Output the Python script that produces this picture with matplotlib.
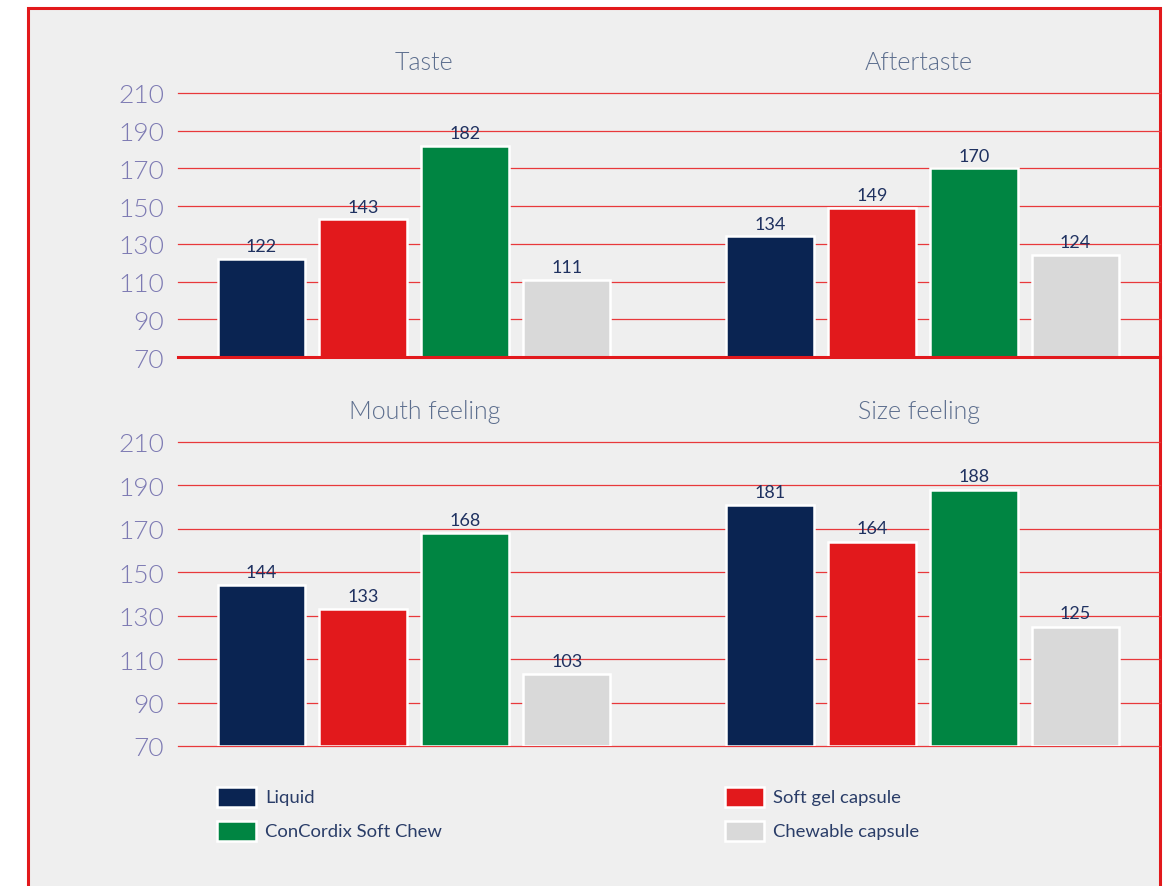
import matplotlib.pyplot as plt
import matplotlib.patches as patches
import numpy as np

plt.rcParams['font.family'] = ['Lato', 'DejaVu Sans']

series = ['Liquid', 'Soft gel capsule', 'ConCordix Soft Chew', 'Chewable capsule']
colors = ['#0a2452', '#e2191c', '#008542', '#d9d9d9']

top_titles = ['Taste', 'Aftertaste']
taste = [122, 143, 182, 111]
aftertaste = [134, 149, 170, 124]

bottom_titles = ['Mouth feeling', 'Size feeling']
mouth = [144, 133, 168, 103]
size = [181, 164, 188, 125]

yticks = [70, 90, 110, 130, 150, 170, 190, 210]

bg = '#efefef'
grid_red = '#e8383b'

fig = plt.figure(figsize=(11.76, 8.87), dpi=100)
fig.patch.set_facecolor('white')

# red frame (bottom edge runs off the picture)
frame = patches.Rectangle((28 / 1176, -0.05), (1160 - 28) / 1176, 1.05 - 9 / 887,
                          transform=fig.transFigure, facecolor=bg,
                          edgecolor='#e2191c', linewidth=2.2, zorder=-5)
fig.patches.append(frame)

ax1 = fig.add_axes([178 / 1176, 1 - 358 / 887, 982 / 1176, 264 / 887])
ax2 = fig.add_axes([178 / 1176, 1 - 747 / 887, 982 / 1176, 304 / 887])

title_shift = [0.1, -0.04]


def draw(ax, groups, titles, thick_base):
    ax.set_facecolor('none')
    for s in ax.spines.values():
        s.set_visible(False)
    ax.set_xlim(-0.82, 8.83)
    ax.set_ylim(70, 210)
    for t in yticks:
        lw = 2.2 if (t == 70 and thick_base) else 0.9
        c = '#e2191c' if (t == 70 and thick_base) else grid_red
        ax.axhline(t, color=c, linewidth=lw, zorder=3 if lw > 1 else 0, clip_on=False)
    for g, (vals, title) in enumerate(zip(groups, titles)):
        x = np.arange(4) + g * 5
        ax.bar(x, np.array(vals) - 70, bottom=70, width=0.86, color=colors,
               edgecolor='white', linewidth=1.8, zorder=2)
        for xi, v in zip(x, vals):
            ax.text(xi, v + 2.5, str(v), ha='center', va='bottom',
                    fontsize=13, color='#1f3160', zorder=4)
        ax.annotate(title, xy=(x.mean() + title_shift[g], 210), xytext=(0, 17),
                    textcoords='offset points', ha='center', va='baseline',
                    fontsize=18, color='#5d6f8e', fontweight=300,
                    annotation_clip=False)
    ax.set_yticks(yticks)
    ax.set_yticklabels([str(t) for t in yticks])
    ax.tick_params(axis='y', length=0, pad=10, labelsize=19, labelcolor='#7d7ab3')
    for lab in ax.get_yticklabels():
        lab.set_fontweight(300)
    ax.set_xticks([])


draw(ax1, [taste, aftertaste], top_titles, True)
draw(ax2, [mouth, size], bottom_titles, False)

# legend drawn by hand in figure coords
leg_pos = [(217, 798), (725, 798), (217, 832), (725, 832)]
for (px, py), name, col in zip(leg_pos, series, colors):
    fig.patches.append(patches.Rectangle((px / 1176, 1 - (py + 10) / 887), 39 / 1176, 20 / 887,
                                         transform=fig.transFigure, facecolor=col,
                                         edgecolor='white', linewidth=1.8, zorder=5))
    fig.text((px + 48) / 1176, 1 - py / 887, name, ha='left', va='center',
             fontsize=13.3, color='#2a3d68')

fig.savefig('out.png', dpi=100, facecolor='white')
